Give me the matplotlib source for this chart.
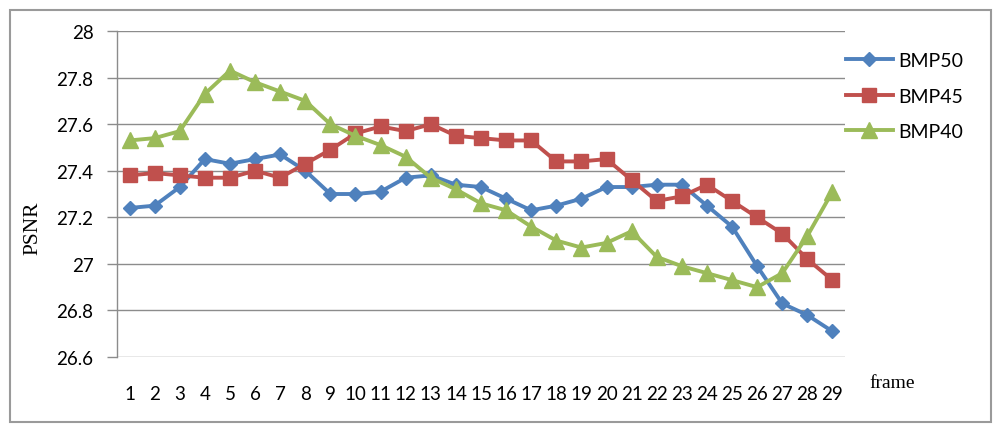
#!/usr/bin/env python3
"""PSNR per frame for BMP50 / BMP45 / BMP40 (Excel-style line chart)."""

import matplotlib
matplotlib.use("Agg")
import matplotlib.pyplot as plt
from matplotlib.patches import Rectangle

frames = list(range(1, 30))

bmp50 = [27.24, 27.25, 27.33, 27.45, 27.43, 27.45, 27.47, 27.40, 27.30, 27.30,
         27.31, 27.37, 27.38, 27.34, 27.33, 27.28, 27.23, 27.25, 27.28, 27.33,
         27.33, 27.34, 27.34, 27.25, 27.16, 26.99, 26.83, 26.78, 26.71]
bmp45 = [27.38, 27.39, 27.38, 27.37, 27.37, 27.40, 27.37, 27.43, 27.49, 27.56,
         27.59, 27.57, 27.60, 27.55, 27.54, 27.53, 27.53, 27.44, 27.44, 27.45,
         27.36, 27.27, 27.29, 27.34, 27.27, 27.20, 27.13, 27.02, 26.93]
bmp40 = [27.53, 27.54, 27.57, 27.73, 27.83, 27.78, 27.74, 27.70, 27.60, 27.55,
         27.51, 27.46, 27.37, 27.32, 27.26, 27.23, 27.16, 27.10, 27.07, 27.09,
         27.14, 27.03, 26.99, 26.96, 26.93, 26.90, 26.96, 27.12, 27.31]

yticks = [26.6, 26.8, 27.0, 27.2, 27.4, 27.6, 27.8, 28.0]
ytick_labels = ["26.6", "26.8", "27", "27.2", "27.4", "27.6", "27.8", "28"]

BLUE, RED, GREEN = "#4F81BD", "#C0504D", "#9BBB59"
GRID = "#8C8C8C"

plt.rcParams["font.family"] = ["Lato", "DejaVu Sans"]

fig = plt.figure(figsize=(10, 4.35), dpi=100)
ax = fig.add_axes([0.117, 0.177, 0.728, 0.7494])

ax.plot(frames, bmp50, color=BLUE, lw=2.8, marker="D", ms=7.5, label="BMP50")
ax.plot(frames, bmp45, color=RED, lw=2.8, marker="s", ms=10, label="BMP45")
ax.plot(frames, bmp40, color=GREEN, lw=2.8, marker="^", ms=11, label="BMP40")

ax.set_xlim(0.5, 29.5)
ax.set_ylim(26.6, 28.0)
ax.set_xticks(frames)
ax.set_xticklabels([str(f) for f in frames], fontsize=13.5)
ax.set_yticks(yticks)
ax.set_yticklabels(ytick_labels, fontsize=13.5)

ax.grid(axis="y", color=GRID, lw=1.0)
ax.set_axisbelow(True)
for s in ("top", "right", "bottom"):
    ax.spines[s].set_visible(False)
ax.spines["left"].set_color(GRID)
ax.spines["left"].set_linewidth(1.0)
ax.tick_params(axis="y", length=7, width=1.0, color=GRID, pad=10)
ax.tick_params(axis="x", length=0, pad=20)

fig.text(0.033, 0.476, "PSNR", rotation=90, ha="center", va="center",
         fontsize=15.5, family="Liberation Serif")
fig.text(0.892, 0.118, "frame", ha="center", va="center",
         fontsize=14, family="Liberation Serif")

fig.legend(loc="upper left", bbox_to_anchor=(0.846, 0.878), frameon=False,
           fontsize=14, handlelength=2.4, handletextpad=0.3, labelspacing=0.95,
           borderpad=0, borderaxespad=0)

fig.patches.append(Rectangle((0.010, 0.0276), 0.981, 0.947, transform=fig.transFigure,
                             fill=False, edgecolor="#9A9A9A", lw=1.5))

fig.savefig("out.png", dpi=100)
